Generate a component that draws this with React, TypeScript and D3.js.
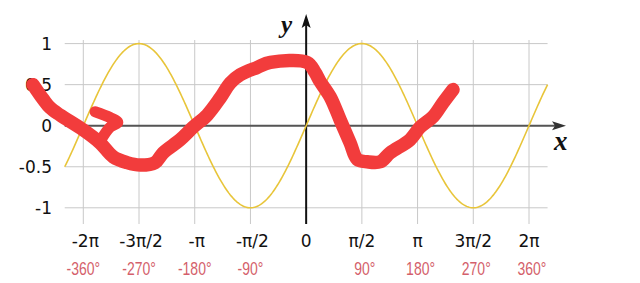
import React from "react";
import * as d3 from "d3";

const PI = Math.PI;
// x tick positions (radians) and labels
const xTicks = [-2 * PI, -1.5 * PI, -PI, -0.5 * PI, 0, 0.5 * PI, PI, 1.5 * PI, 2 * PI];
const radLabels = ["-2π", "-3π/2", "-π", "-π/2", "0", "π/2", "π", "3π/2", "2π"];
const degLabels = ["-360°", "-270°", "-180°", "-90°", "", "90°", "180°", "270°", "360°"];
const yTicks = [1, 0.5, 0, -0.5, -1];
const yLabels = ["1", "0.5", "0", "-0.5", "-1"];

// hand-drawn red stroke (x in radians, y value)
const redX = [-7.7, -7.41, -7.22, -6.94, -6.29, -5.81, -5.44, -5.05, -4.68, -4.26, -4.03, -3.55, -3.19, -2.79, -2.42, -2.14, -1.86, -1.38, -1.01, 0.03, 0.25, 0.39, 0.68, 0.96, 1.24, 1.44, 1.72, 2.09, 2.37, 2.93, 3.21, 3.58, 3.86, 4.14];
const redY = [0.5, 0.32, 0.22, 0.13, -0.05, -0.21, -0.38, -0.45, -0.48, -0.45, -0.33, -0.17, -0.02, 0.13, 0.34, 0.52, 0.62, 0.71, 0.77, 0.77, 0.65, 0.54, 0.35, 0.07, -0.21, -0.41, -0.44, -0.44, -0.33, -0.17, -0.02, 0.11, 0.28, 0.44];
// small hook stroke
const hookX = [-5.95, -5.53, -5.31, -5.53, -5.81];
const hookY = [0.17, 0.1, 0.04, -0.02, -0.19];

// sine curve domain
const sineStart = -13 * PI / 6;
const sineEnd = 13 * PI / 6;

export default function App() {
  const W = 640, H = 283;
  const x = d3.scaleLinear().domain([-2 * PI, 2 * PI]).range([83.3, 529]);
  const y = d3.scaleLinear().domain([-1, 1]).range([207.8, 43.6]);

  const sineData = d3.range(0, 401).map((i) => {
    const t = sineStart + (sineEnd - sineStart) * (i / 400);
    return [t, Math.sin(t)] as [number, number];
  });
  const line = d3
    .line<[number, number]>()
    .x((d) => x(d[0]))
    .y((d) => y(d[1]));
  const redLine = d3
    .line<[number, number]>()
    .x((d) => x(d[0]))
    .y((d) => y(d[1]))
    .curve(d3.curveCatmullRom.alpha(0.5));

  const redData = redX.map((v, i) => [v, redY[i]] as [number, number]);
  const hookData = hookX.map((v, i) => [v, hookY[i]] as [number, number]);

  const gx0 = x(sineStart);
  const gx1 = x(sineEnd);
  const x0 = x(0);
  const y0 = y(0);

  return (
    <svg
      width={W}
      height={H}
      style={{ position: "fixed", left: 0, top: 0, background: "#fff" }}
    >
      {/* grid */}
      {yTicks.map((t, i) => (
        <line key={"hy" + i} x1={gx0} x2={gx1} y1={y(t)} y2={y(t)} stroke="#c8c8c8" strokeWidth={1} />
      ))}
      {xTicks.map((t, i) =>
        t === 0 ? null : (
          <line key={"vx" + i} x1={x(t)} x2={x(t)} y1={40} y2={224} stroke="#c8c8c8" strokeWidth={1} />
        )
      )}
      {/* x axis */}
      <line x1={gx0} x2={560} y1={y0} y2={y0} stroke="#555" strokeWidth={2} />
      <path d={`M${566},${y0} L${552},${y0 - 4.5} L${555},${y0} L${552},${y0 + 4.5} Z`} fill="#333" />
      {/* y axis */}
      <line x1={x0} x2={x0} y1={224} y2={20} stroke="#111" strokeWidth={2} />
      <path d={`M${x0},${14} L${x0 - 4.5},${28} L${x0},${25} L${x0 + 4.5},${28} Z`} fill="#111" />
      {/* sine */}
      <path d={line(sineData) || ""} fill="none" stroke="#e8c53a" strokeWidth={1.6} />
      {/* y tick labels */}
      {yTicks.map((t, i) => (
        <text key={"yl" + i} x={52} y={y(t)} dy="0.36em" textAnchor="end" fontFamily="DejaVu Sans" fontSize={17} fill="#111">
          {yLabels[i]}
        </text>
      ))}
      {/* x tick labels */}
      {xTicks.map((t, i) => (
        <text key={"xl" + i} x={x(t) + (i < 4 ? 2 : 0)} y={247} textAnchor="middle" fontFamily="DejaVu Sans" fontSize={17} fill="#111">
          {radLabels[i]}
        </text>
      ))}
      {xTicks.map((t, i) => {
        const cx = x(t) + (i > 4 ? 3 : 0);
        return (
          <text
            key={"dl" + i}
            transform={`translate(${cx},275) scale(0.8,1)`}
            textAnchor="middle"
            fontFamily="Liberation Sans"
            fontSize={17.5}
            fill="#d45f6b"
          >
            {degLabels[i]}
          </text>
        );
      })}
      {/* axis names */}
      <text x={281} y={33} fontFamily="Liberation Serif" fontStyle="italic" fontWeight="bold" fontSize={25} fill="#111">
        y
      </text>
      <text x={554} y={150} fontFamily="Liberation Serif" fontStyle="italic" fontWeight="bold" fontSize={27} fill="#111">
        x
      </text>
      {/* red hand-drawn strokes */}
      <path d={redLine(redData) || ""} fill="none" stroke="#f23c3c" strokeWidth={13.5} strokeLinecap="round" strokeLinejoin="round" />
      <path d={redLine(hookData) || ""} fill="none" stroke="#f23c3c" strokeWidth={11} strokeLinecap="round" strokeLinejoin="round" />
    </svg>
  );
}
